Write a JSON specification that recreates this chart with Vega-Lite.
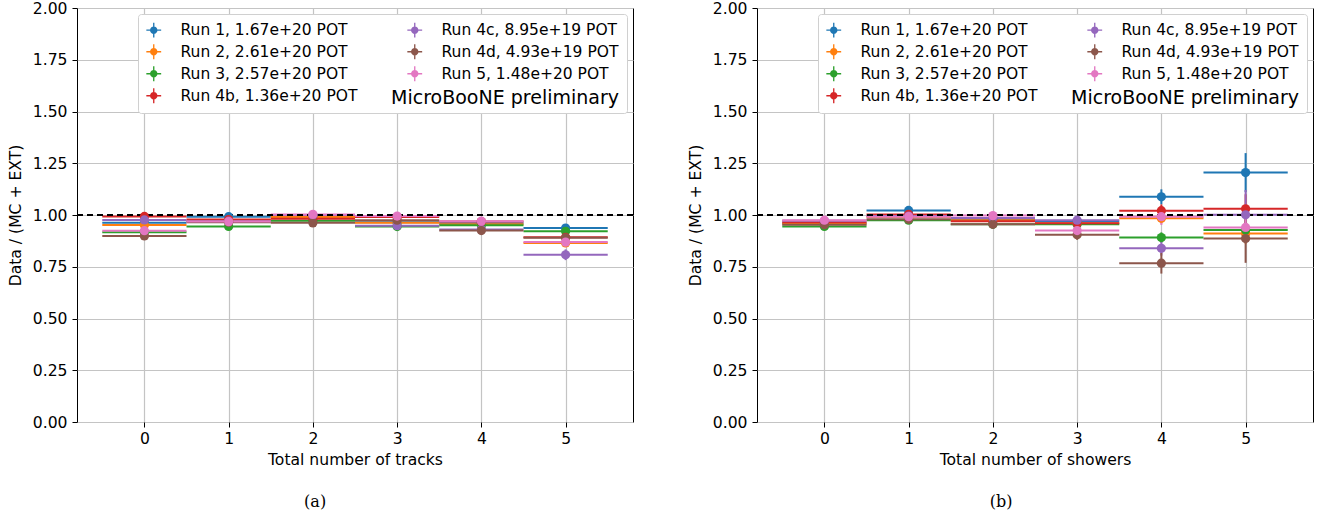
{
  "$schema": "https://vega.github.io/schema/vega-lite/v6.json",
  "padding": {"left": 7, "top": 0, "right": 5, "bottom": 0},
  "spacing": 52,
  "config": {
    "font": "DejaVu Sans",
    "view": {"stroke": "#000", "strokeWidth": 1},
    "axis": {"domain": false, "tickColor": "#000", "tickSize": 5, "labelFont": "DejaVu Sans", "labelFontSize": 15.6, "labelColor": "#000", "titleFont": "DejaVu Sans", "titleFontSize": 15.6, "titleFontWeight": "normal", "titleColor": "#000", "gridColor": "#c4c4c4", "gridWidth": 1.2},
    "legend": {"labelFont": "DejaVu Sans", "labelFontSize": 15.5, "labelColor": "#000", "labelLimit": 300}
  },
  "datasets": {
    "tracks": [
      {"bin":0,"run":"Run 1, 1.67e+20 POT","ratio":0.963,"yerr":0.006,"xerr":0.5},
      {"bin":1,"run":"Run 1, 1.67e+20 POT","ratio":0.992,"yerr":0.006,"xerr":0.5},
      {"bin":2,"run":"Run 1, 1.67e+20 POT","ratio":0.995,"yerr":0.006,"xerr":0.5},
      {"bin":3,"run":"Run 1, 1.67e+20 POT","ratio":0.965,"yerr":0.006,"xerr":0.5},
      {"bin":4,"run":"Run 1, 1.67e+20 POT","ratio":0.96,"yerr":0.008,"xerr":0.5},
      {"bin":5,"run":"Run 1, 1.67e+20 POT","ratio":0.937,"yerr":0.01,"xerr":0.5},
      {"bin":0,"run":"Run 2, 2.61e+20 POT","ratio":0.952,"yerr":0.006,"xerr":0.5},
      {"bin":1,"run":"Run 2, 2.61e+20 POT","ratio":0.975,"yerr":0.006,"xerr":0.5},
      {"bin":2,"run":"Run 2, 2.61e+20 POT","ratio":0.99,"yerr":0.006,"xerr":0.5},
      {"bin":3,"run":"Run 2, 2.61e+20 POT","ratio":0.963,"yerr":0.006,"xerr":0.5},
      {"bin":4,"run":"Run 2, 2.61e+20 POT","ratio":0.955,"yerr":0.008,"xerr":0.5},
      {"bin":5,"run":"Run 2, 2.61e+20 POT","ratio":0.865,"yerr":0.012,"xerr":0.5},
      {"bin":0,"run":"Run 3, 2.57e+20 POT","ratio":0.917,"yerr":0.006,"xerr":0.5},
      {"bin":1,"run":"Run 3, 2.57e+20 POT","ratio":0.945,"yerr":0.006,"xerr":0.5},
      {"bin":2,"run":"Run 3, 2.57e+20 POT","ratio":0.972,"yerr":0.006,"xerr":0.5},
      {"bin":3,"run":"Run 3, 2.57e+20 POT","ratio":0.944,"yerr":0.006,"xerr":0.5},
      {"bin":4,"run":"Run 3, 2.57e+20 POT","ratio":0.95,"yerr":0.008,"xerr":0.5},
      {"bin":5,"run":"Run 3, 2.57e+20 POT","ratio":0.921,"yerr":0.01,"xerr":0.5},
      {"bin":0,"run":"Run 4b, 1.36e+20 POT","ratio":0.993,"yerr":0.006,"xerr":0.5},
      {"bin":1,"run":"Run 4b, 1.36e+20 POT","ratio":0.978,"yerr":0.006,"xerr":0.5},
      {"bin":2,"run":"Run 4b, 1.36e+20 POT","ratio":0.982,"yerr":0.006,"xerr":0.5},
      {"bin":3,"run":"Run 4b, 1.36e+20 POT","ratio":0.99,"yerr":0.006,"xerr":0.5},
      {"bin":4,"run":"Run 4b, 1.36e+20 POT","ratio":0.968,"yerr":0.008,"xerr":0.5},
      {"bin":5,"run":"Run 4b, 1.36e+20 POT","ratio":0.892,"yerr":0.015,"xerr":0.5},
      {"bin":0,"run":"Run 4c, 8.95e+19 POT","ratio":0.976,"yerr":0.008,"xerr":0.5},
      {"bin":1,"run":"Run 4c, 8.95e+19 POT","ratio":0.97,"yerr":0.008,"xerr":0.5},
      {"bin":2,"run":"Run 4c, 8.95e+19 POT","ratio":1.0,"yerr":0.008,"xerr":0.5},
      {"bin":3,"run":"Run 4c, 8.95e+19 POT","ratio":0.948,"yerr":0.008,"xerr":0.5},
      {"bin":4,"run":"Run 4c, 8.95e+19 POT","ratio":0.93,"yerr":0.01,"xerr":0.5},
      {"bin":5,"run":"Run 4c, 8.95e+19 POT","ratio":0.808,"yerr":0.026,"xerr":0.5},
      {"bin":0,"run":"Run 4d, 4.93e+19 POT","ratio":0.899,"yerr":0.01,"xerr":0.5},
      {"bin":1,"run":"Run 4d, 4.93e+19 POT","ratio":0.965,"yerr":0.01,"xerr":0.5},
      {"bin":2,"run":"Run 4d, 4.93e+19 POT","ratio":0.962,"yerr":0.01,"xerr":0.5},
      {"bin":3,"run":"Run 4d, 4.93e+19 POT","ratio":0.975,"yerr":0.01,"xerr":0.5},
      {"bin":4,"run":"Run 4d, 4.93e+19 POT","ratio":0.925,"yerr":0.012,"xerr":0.5},
      {"bin":5,"run":"Run 4d, 4.93e+19 POT","ratio":0.89,"yerr":0.02,"xerr":0.5},
      {"bin":0,"run":"Run 5, 1.48e+20 POT","ratio":0.924,"yerr":0.006,"xerr":0.5},
      {"bin":1,"run":"Run 5, 1.48e+20 POT","ratio":0.968,"yerr":0.006,"xerr":0.5},
      {"bin":2,"run":"Run 5, 1.48e+20 POT","ratio":1.003,"yerr":0.006,"xerr":0.5},
      {"bin":3,"run":"Run 5, 1.48e+20 POT","ratio":0.995,"yerr":0.006,"xerr":0.5},
      {"bin":4,"run":"Run 5, 1.48e+20 POT","ratio":0.97,"yerr":0.008,"xerr":0.5},
      {"bin":5,"run":"Run 5, 1.48e+20 POT","ratio":0.869,"yerr":0.012,"xerr":0.5}
    ],
    "showers": [
      {"bin":0,"run":"Run 1, 1.67e+20 POT","ratio":0.96,"yerr":0.006,"xerr":0.5},
      {"bin":1,"run":"Run 1, 1.67e+20 POT","ratio":1.022,"yerr":0.006,"xerr":0.5},
      {"bin":2,"run":"Run 1, 1.67e+20 POT","ratio":0.98,"yerr":0.006,"xerr":0.5},
      {"bin":3,"run":"Run 1, 1.67e+20 POT","ratio":0.97,"yerr":0.012,"xerr":0.5},
      {"bin":4,"run":"Run 1, 1.67e+20 POT","ratio":1.088,"yerr":0.036,"xerr":0.5},
      {"bin":5,"run":"Run 1, 1.67e+20 POT","ratio":1.205,"yerr":0.094,"xerr":0.5},
      {"bin":0,"run":"Run 2, 2.61e+20 POT","ratio":0.958,"yerr":0.006,"xerr":0.5},
      {"bin":1,"run":"Run 2, 2.61e+20 POT","ratio":0.99,"yerr":0.006,"xerr":0.5},
      {"bin":2,"run":"Run 2, 2.61e+20 POT","ratio":0.975,"yerr":0.006,"xerr":0.5},
      {"bin":3,"run":"Run 2, 2.61e+20 POT","ratio":0.96,"yerr":0.01,"xerr":0.5},
      {"bin":4,"run":"Run 2, 2.61e+20 POT","ratio":0.984,"yerr":0.025,"xerr":0.5},
      {"bin":5,"run":"Run 2, 2.61e+20 POT","ratio":0.911,"yerr":0.05,"xerr":0.5},
      {"bin":0,"run":"Run 3, 2.57e+20 POT","ratio":0.945,"yerr":0.006,"xerr":0.5},
      {"bin":1,"run":"Run 3, 2.57e+20 POT","ratio":0.975,"yerr":0.006,"xerr":0.5},
      {"bin":2,"run":"Run 3, 2.57e+20 POT","ratio":0.955,"yerr":0.006,"xerr":0.5},
      {"bin":3,"run":"Run 3, 2.57e+20 POT","ratio":0.955,"yerr":0.01,"xerr":0.5},
      {"bin":4,"run":"Run 3, 2.57e+20 POT","ratio":0.891,"yerr":0.025,"xerr":0.5},
      {"bin":5,"run":"Run 3, 2.57e+20 POT","ratio":0.928,"yerr":0.05,"xerr":0.5},
      {"bin":0,"run":"Run 4b, 1.36e+20 POT","ratio":0.965,"yerr":0.008,"xerr":0.5},
      {"bin":1,"run":"Run 4b, 1.36e+20 POT","ratio":1.003,"yerr":0.008,"xerr":0.5},
      {"bin":2,"run":"Run 4b, 1.36e+20 POT","ratio":0.97,"yerr":0.008,"xerr":0.5},
      {"bin":3,"run":"Run 4b, 1.36e+20 POT","ratio":0.96,"yerr":0.015,"xerr":0.5},
      {"bin":4,"run":"Run 4b, 1.36e+20 POT","ratio":1.021,"yerr":0.03,"xerr":0.5},
      {"bin":5,"run":"Run 4b, 1.36e+20 POT","ratio":1.03,"yerr":0.07,"xerr":0.5},
      {"bin":0,"run":"Run 4c, 8.95e+19 POT","ratio":0.972,"yerr":0.01,"xerr":0.5},
      {"bin":1,"run":"Run 4c, 8.95e+19 POT","ratio":0.995,"yerr":0.01,"xerr":0.5},
      {"bin":2,"run":"Run 4c, 8.95e+19 POT","ratio":0.985,"yerr":0.01,"xerr":0.5},
      {"bin":3,"run":"Run 4c, 8.95e+19 POT","ratio":0.975,"yerr":0.02,"xerr":0.5},
      {"bin":4,"run":"Run 4c, 8.95e+19 POT","ratio":0.839,"yerr":0.035,"xerr":0.5},
      {"bin":5,"run":"Run 4c, 8.95e+19 POT","ratio":1.001,"yerr":0.12,"xerr":0.5},
      {"bin":0,"run":"Run 4d, 4.93e+19 POT","ratio":0.953,"yerr":0.012,"xerr":0.5},
      {"bin":1,"run":"Run 4d, 4.93e+19 POT","ratio":0.979,"yerr":0.012,"xerr":0.5},
      {"bin":2,"run":"Run 4d, 4.93e+19 POT","ratio":0.955,"yerr":0.012,"xerr":0.5},
      {"bin":3,"run":"Run 4d, 4.93e+19 POT","ratio":0.905,"yerr":0.025,"xerr":0.5},
      {"bin":4,"run":"Run 4d, 4.93e+19 POT","ratio":0.767,"yerr":0.05,"xerr":0.5},
      {"bin":5,"run":"Run 4d, 4.93e+19 POT","ratio":0.886,"yerr":0.117,"xerr":0.5},
      {"bin":0,"run":"Run 5, 1.48e+20 POT","ratio":0.975,"yerr":0.008,"xerr":0.5},
      {"bin":1,"run":"Run 5, 1.48e+20 POT","ratio":0.992,"yerr":0.008,"xerr":0.5},
      {"bin":2,"run":"Run 5, 1.48e+20 POT","ratio":0.997,"yerr":0.008,"xerr":0.5},
      {"bin":3,"run":"Run 5, 1.48e+20 POT","ratio":0.925,"yerr":0.02,"xerr":0.5},
      {"bin":4,"run":"Run 5, 1.48e+20 POT","ratio":0.992,"yerr":0.04,"xerr":0.5},
      {"bin":5,"run":"Run 5, 1.48e+20 POT","ratio":0.94,"yerr":0.06,"xerr":0.5}
    ]
  },
  "resolve": {"scale": {"color": "independent"}, "legend": {"color": "independent"}},
  "hconcat": [
    {
      "title": {"text": "(a)", "orient": "bottom", "anchor": "middle", "frame": "bounds", "font": "DejaVu Serif", "fontSize": 16, "fontWeight": "normal", "color": "#000", "offset": 25, "dx": -6},
      "resolve": {"scale": {"color": "independent"}, "legend": {"color": "independent"}},
      "vconcat": [
        {
          "width": 556, "height": 414,
          "title": {"text": "MicroBooNE preliminary", "orient": "top", "anchor": "end", "frame": "group", "font": "DejaVu Sans", "fontSize": 19, "fontWeight": "normal", "color": "#000", "offset": 0, "dy": 107, "dx": -14},
          "data": {"name": "tracks"},
          "layer": [
            {
              "mark": {"type": "errorbar", "thickness": 2},
              "encoding": {
                "x": {"field": "bin", "type": "quantitative", "title": "Total number of tracks", "scale": {"domain": [-0.8, 5.8], "nice": false, "zero": false}, "axis": {"values": [0, 1, 2, 3, 4, 5], "format": "d", "labelPadding": 4, "titlePadding": 6}},
                "xError": {"field": "xerr"},
                "y": {"field": "ratio", "type": "quantitative", "title": "Data / (MC + EXT)", "scale": {"domain": [0, 2], "nice": false, "zero": false}, "axis": {"values": [0, 0.25, 0.5, 0.75, 1, 1.25, 1.5, 1.75, 2], "format": ".2f", "labelPadding": 5, "titlePadding": 9}},
                "color": {"field": "run", "type": "nominal", "scale": {"domain": ["Run 1, 1.67e+20 POT", "Run 2, 2.61e+20 POT", "Run 3, 2.57e+20 POT", "Run 4b, 1.36e+20 POT", "Run 4c, 8.95e+19 POT", "Run 4d, 4.93e+19 POT", "Run 5, 1.48e+20 POT"], "range": ["#1f77b4", "#ff7f0e", "#2ca02c", "#d62728", "#9467bd", "#8c564b", "#e377c2"]}, "legend": {"title": null, "orient": "top-right", "offset": 6, "columns": 2, "symbolType": "M0.5,0A0.5,0.5 0 1,1 -0.5,0A0.5,0.5 0 1,1 0.5,0ZM-1,-0.09L1,-0.09L1,0.09L-1,0.09ZM-0.09,-1L0.09,-1L0.09,1L-0.09,1Z", "symbolSize": 220, "symbolStrokeWidth": 0, "symbolOpacity": 1, "labelFontSize": 15.5, "labelFont": "DejaVu Sans", "labelLimit": 300, "rowPadding": 5, "columnPadding": 49, "labelOffset": 19, "padding": 8, "fillColor": "#ffffff", "strokeColor": "#d0d0d0", "cornerRadius": 3}}
              }
            },
            {
              "mark": {"type": "errorbar", "thickness": 2},
              "encoding": {
                "x": {"field": "bin", "type": "quantitative", "title": "Total number of tracks"},
                "y": {"field": "ratio", "type": "quantitative", "title": "Data / (MC + EXT)"},
                "yError": {"field": "yerr"},
                "color": {"field": "run", "type": "nominal"}
              }
            },
            {
              "data": {"values": [{}]},
              "mark": {"type": "rule", "strokeDash": [6, 4], "strokeWidth": 2, "color": "#000"},
              "encoding": {"y": {"datum": 1}}
            },
            {
              "mark": {"type": "point", "filled": true, "size": 85, "opacity": 1},
              "encoding": {
                "x": {"field": "bin", "type": "quantitative", "title": "Total number of tracks"},
                "y": {"field": "ratio", "type": "quantitative", "title": "Data / (MC + EXT)"},
                "color": {"field": "run", "type": "nominal"}
              }
            }
          ]
        }
      ]
    },
    {
      "title": {"text": "(b)", "orient": "bottom", "anchor": "middle", "frame": "bounds", "font": "DejaVu Serif", "fontSize": 16, "fontWeight": "normal", "color": "#000", "offset": 25, "dx": 0},
      "resolve": {"scale": {"color": "independent"}, "legend": {"color": "independent"}},
      "vconcat": [
        {
          "width": 556, "height": 414,
          "title": {"text": "MicroBooNE preliminary", "orient": "top", "anchor": "end", "frame": "group", "font": "DejaVu Sans", "fontSize": 19, "fontWeight": "normal", "color": "#000", "offset": 0, "dy": 107, "dx": -14},
          "data": {"name": "showers"},
          "layer": [
            {
              "mark": {"type": "errorbar", "thickness": 2},
              "encoding": {
                "x": {"field": "bin", "type": "quantitative", "title": "Total number of showers", "scale": {"domain": [-0.8, 5.8], "nice": false, "zero": false}, "axis": {"values": [0, 1, 2, 3, 4, 5], "format": "d", "labelPadding": 4, "titlePadding": 6}},
                "xError": {"field": "xerr"},
                "y": {"field": "ratio", "type": "quantitative", "title": "Data / (MC + EXT)", "scale": {"domain": [0, 2], "nice": false, "zero": false}, "axis": {"values": [0, 0.25, 0.5, 0.75, 1, 1.25, 1.5, 1.75, 2], "format": ".2f", "labelPadding": 5, "titlePadding": 9}},
                "color": {"field": "run", "type": "nominal", "scale": {"domain": ["Run 1, 1.67e+20 POT", "Run 2, 2.61e+20 POT", "Run 3, 2.57e+20 POT", "Run 4b, 1.36e+20 POT", "Run 4c, 8.95e+19 POT", "Run 4d, 4.93e+19 POT", "Run 5, 1.48e+20 POT"], "range": ["#1f77b4", "#ff7f0e", "#2ca02c", "#d62728", "#9467bd", "#8c564b", "#e377c2"]}, "legend": {"title": null, "orient": "top-right", "offset": 6, "columns": 2, "symbolType": "M0.5,0A0.5,0.5 0 1,1 -0.5,0A0.5,0.5 0 1,1 0.5,0ZM-1,-0.09L1,-0.09L1,0.09L-1,0.09ZM-0.09,-1L0.09,-1L0.09,1L-0.09,1Z", "symbolSize": 220, "symbolStrokeWidth": 0, "symbolOpacity": 1, "labelFontSize": 15.5, "labelFont": "DejaVu Sans", "labelLimit": 300, "rowPadding": 5, "columnPadding": 49, "labelOffset": 19, "padding": 8, "fillColor": "#ffffff", "strokeColor": "#d0d0d0", "cornerRadius": 3}}
              }
            },
            {
              "mark": {"type": "errorbar", "thickness": 2},
              "encoding": {
                "x": {"field": "bin", "type": "quantitative", "title": "Total number of showers"},
                "y": {"field": "ratio", "type": "quantitative", "title": "Data / (MC + EXT)"},
                "yError": {"field": "yerr"},
                "color": {"field": "run", "type": "nominal"}
              }
            },
            {
              "data": {"values": [{}]},
              "mark": {"type": "rule", "strokeDash": [6, 4], "strokeWidth": 2, "color": "#000"},
              "encoding": {"y": {"datum": 1}}
            },
            {
              "mark": {"type": "point", "filled": true, "size": 85, "opacity": 1},
              "encoding": {
                "x": {"field": "bin", "type": "quantitative", "title": "Total number of showers"},
                "y": {"field": "ratio", "type": "quantitative", "title": "Data / (MC + EXT)"},
                "color": {"field": "run", "type": "nominal"}
              }
            }
          ]
        }
      ]
    }
  ]
}
